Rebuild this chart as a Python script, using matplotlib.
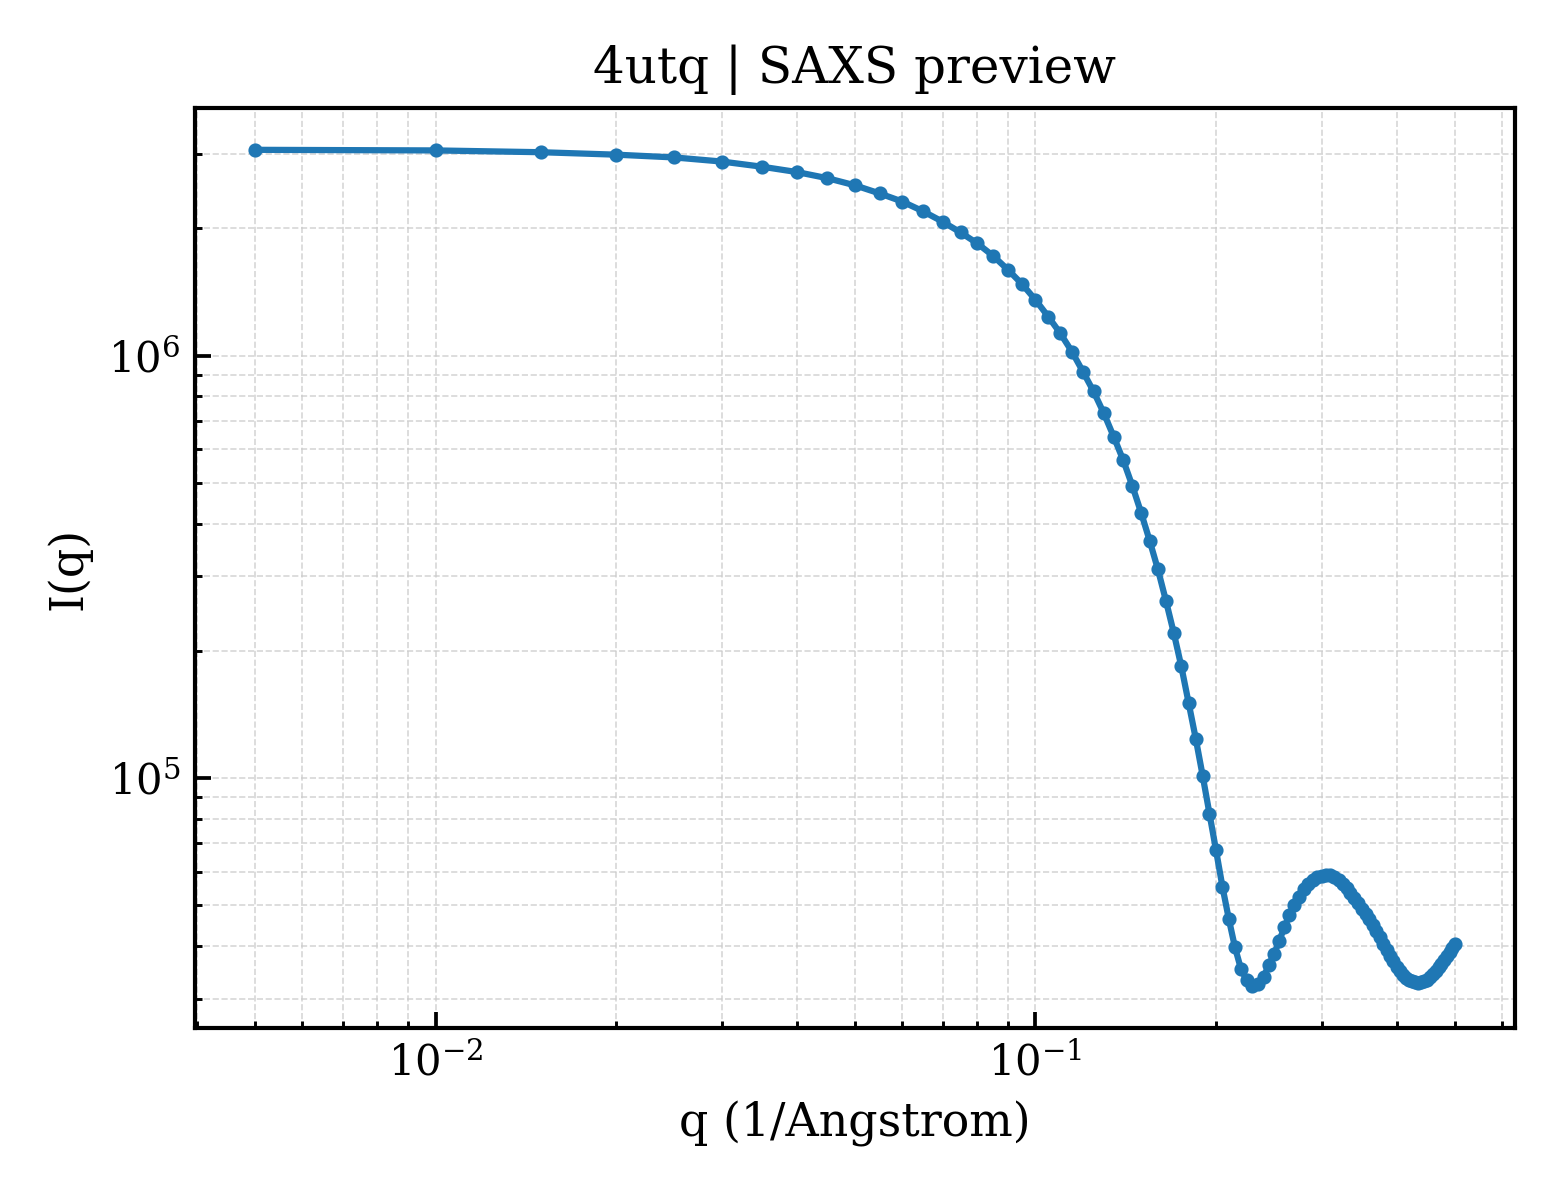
import matplotlib
matplotlib.use("Agg")
import matplotlib.pyplot as plt

plt.rcParams['font.family'] = ['DejaVu Serif']
plt.rcParams['mathtext.fontset'] = 'dejavuserif'

title = "4utq | SAXS preview"
xlabel = "q (1/Angstrom)"
ylabel = "I(q)"

q = [0.005, 0.010, 0.015, 0.020, 0.025, 0.030, 0.035, 0.040, 0.045, 0.050,
     0.055, 0.060, 0.065, 0.070, 0.075, 0.080, 0.085, 0.090, 0.095, 0.100,
     0.105, 0.110, 0.115, 0.120, 0.125, 0.130, 0.135, 0.140, 0.145, 0.150,
     0.155, 0.160, 0.165, 0.170, 0.175, 0.180, 0.185, 0.190, 0.195, 0.200,
     0.205, 0.210, 0.215, 0.220, 0.225, 0.230, 0.235, 0.240, 0.245, 0.250,
     0.255, 0.260, 0.265, 0.270, 0.275, 0.280, 0.285, 0.290, 0.295, 0.300,
     0.305, 0.310, 0.315, 0.320, 0.325, 0.330, 0.335, 0.340, 0.345, 0.350,
     0.355, 0.360, 0.365, 0.370, 0.375, 0.380, 0.385, 0.390, 0.395, 0.400,
     0.405, 0.410, 0.415, 0.420, 0.425, 0.430, 0.435, 0.440, 0.445, 0.450,
     0.455, 0.460, 0.465, 0.470, 0.475, 0.480, 0.485, 0.490, 0.495, 0.500]

intensity = [3.07e6, 3.06e6, 3.03e6, 2.99e6, 2.945e6, 2.88e6, 2.80e6, 2.72e6, 2.63e6, 2.53e6,
             2.42e6, 2.315e6, 2.195e6, 2.075e6, 1.957e6, 1.843e6, 1.722e6, 1.596e6, 1.476e6, 1.355e6,
             1.237e6, 1.129e6, 1.022e6, 9.16e5, 8.22e5, 7.30e5, 6.43e5, 5.66e5, 4.92e5, 4.246e5,
             3.645e5, 3.116e5, 2.627e5, 2.207e5, 1.839e5, 1.506e5, 1.239e5, 1.011e5, 8.23e4, 6.734e4,
             5.517e4, 4.640e4, 3.977e4, 3.533e4, 3.315e4, 3.211e4, 3.247e4, 3.373e4, 3.611e4, 3.834e4,
             4.117e4, 4.430e4, 4.730e4, 4.995e4, 5.232e4, 5.451e4, 5.617e4, 5.741e4, 5.820e4, 5.860e4,
             5.885e4, 5.875e4, 5.820e4, 5.741e4, 5.617e4, 5.481e4, 5.348e4, 5.204e4, 5.050e4, 4.901e4,
             4.757e4, 4.628e4, 4.479e4, 4.335e4, 4.195e4, 4.049e4, 3.919e4, 3.793e4, 3.681e4, 3.572e4,
             3.485e4, 3.419e4, 3.364e4, 3.327e4, 3.300e4, 3.282e4, 3.273e4, 3.282e4, 3.300e4, 3.327e4,
             3.373e4, 3.428e4, 3.494e4, 3.562e4, 3.631e4, 3.710e4, 3.793e4, 3.875e4, 3.961e4, 4.049e4]

fig = plt.figure(figsize=(5.2, 4.0), dpi=300)
ax = fig.add_axes([0.125, 0.1433, 0.846, 0.7667])

ax.plot(q, intensity, '-o', color='#1f77b4', lw=1.5, ms=2.4)
ax.set_xscale('log')
ax.set_yscale('log')

ax.grid(True, which='both', ls='--', lw=0.4, color='#cccccc', alpha=0.8)
ax.tick_params(which='both', direction='in')
ax.tick_params(which='major', length=3.8, width=0.9, labelsize=10)
ax.tick_params(which='minor', length=1.7, width=0.7)
for s in ax.spines.values():
    s.set_linewidth(1.0)

ax.set_title(title, fontsize=12)
ax.set_xlabel(xlabel, fontsize=11)
ax.set_ylabel(ylabel, fontsize=11)

fig.savefig("out.png", dpi=300)
